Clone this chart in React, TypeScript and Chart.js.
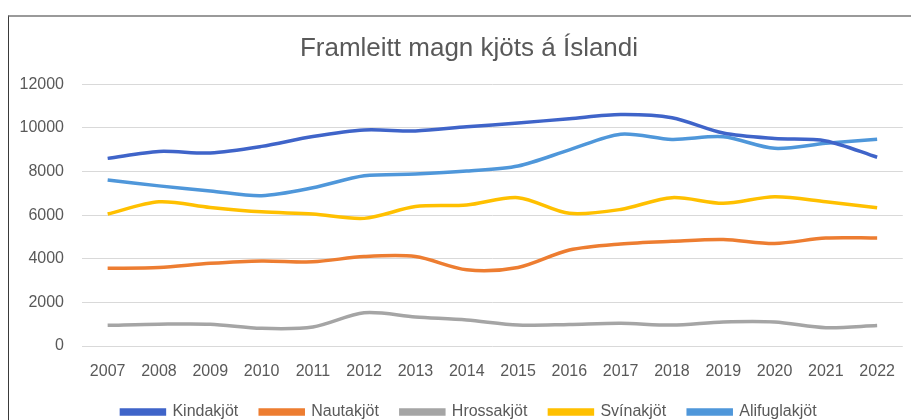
import React, { useEffect, useRef } from "react";
import { Chart, registerables } from "chart.js";

Chart.register(...registerables);

const TITLE = "Framleitt magn kjöts á Íslandi";
const years = ["2007","2008","2009","2010","2011","2012","2013","2014","2015","2016","2017","2018","2019","2020","2021","2022"];
const kindakjot = [8600, 8920, 8850, 9150, 9600, 9900, 9860, 10050, 10220, 10420, 10610, 10460, 9760, 9510, 9400, 8650];
const nautakjot = [3560, 3600, 3790, 3900, 3860, 4100, 4100, 3490, 3600, 4400, 4680, 4800, 4880, 4700, 4950, 4950];
const hrossakjot = [950, 1000, 1000, 810, 870, 1520, 1330, 1190, 960, 990, 1040, 960, 1100, 1100, 840, 940];
const svinakjot = [6050, 6610, 6350, 6150, 6050, 5850, 6390, 6460, 6800, 6080, 6260, 6800, 6540, 6840, 6610, 6340];
const alifuglakjot = [7610, 7340, 7110, 6890, 7250, 7800, 7880, 8020, 8250, 8990, 9710, 9470, 9590, 9060, 9290, 9480];
const seriesNames = ["Kindakjöt", "Nautakjöt", "Hrossakjöt", "Svínakjöt", "Alifuglakjöt"];
const seriesColors = ["#3F64C9", "#ED7D31", "#A5A5A5", "#FFC000", "#4F97DA"];
const yTicks = [0, 2000, 4000, 6000, 8000, 10000, 12000];

const FONT = "'Liberation Sans', Arial, sans-serif";
const TEXT = "#595959";

const shiftBoxes = {
  id: "shiftBoxes",
  afterLayout(chart: any) {
    for (const b of [chart.legend, chart.titleBlock]) {
      if (b) {
        b.left += 10;
        b.right += 10;
      }
    }
  },
};

export default function App() {
  const ref = useRef<HTMLCanvasElement | null>(null);

  useEffect(() => {
    if (!ref.current) return;
    const values = [kindakjot, nautakjot, hrossakjot, svinakjot, alifuglakjot];
    const chart = new Chart(ref.current, {
      type: "line",
      data: {
        labels: years,
        datasets: seriesNames.map((name, i) => ({
          label: name,
          data: values[i],
          borderColor: seriesColors[i],
          backgroundColor: seriesColors[i],
          borderWidth: 3.5,
          pointRadius: 0,
          tension: 0.3,
          fill: false,
        })),
      },
      plugins: [shiftBoxes],
      options: {
        responsive: false,
        animation: false,
        layout: { padding: { left: 0, right: 2, top: 0, bottom: 7 } },
        plugins: {
          title: {
            display: true,
            text: TITLE,
            color: TEXT,
            font: { family: FONT, size: 26, weight: "normal", lineHeight: 1.2 },
            padding: { top: 16, bottom: 20 },
          },
          legend: {
            position: "bottom",
            labels: {
              color: TEXT,
              font: { family: FONT, size: 16 },
              boxWidth: 43,
              boxHeight: 4,
              padding: 22,
            },
          },
          tooltip: { enabled: false },
        },
        scales: {
          x: {
            offset: true,
            grid: { display: false, drawTicks: false },
            border: { display: false },
            ticks: {
              color: TEXT,
              font: { family: FONT, size: 16 },
              padding: 16,
              maxRotation: 0,
              autoSkip: false,
            },
            afterFit: (scale: any) => {
              scale.height = 36;
            },
          },
          y: {
            min: 0,
            max: 12000,
            grid: { color: "#D9D9D9", lineWidth: 1, drawTicks: false },
            border: { display: false },
            afterBuildTicks: (scale: any) => {
              scale.ticks = yTicks.map((v) => ({ value: v }));
            },
            ticks: {
              color: TEXT,
              font: { family: FONT, size: 16 },
              padding: 18,
              callback: (v: any) => String(v),
            },
            afterFit: (scale: any) => {
              scale.width = 73;
            },
          },
        },
      },
    });
    return () => chart.destroy();
  }, []);

  return (
    <div
      style={{
        position: "fixed",
        top: 15,
        left: 8,
        width: 903,
        height: 405,
        overflow: "hidden",
        borderTop: "2px solid #9a9a9a",
        borderLeft: "1px solid #3a3a3a",
        background: "#fff",
      }}
    >
      <canvas ref={ref} width={902} height={420} style={{ display: "block" }} />
    </div>
  );
}
